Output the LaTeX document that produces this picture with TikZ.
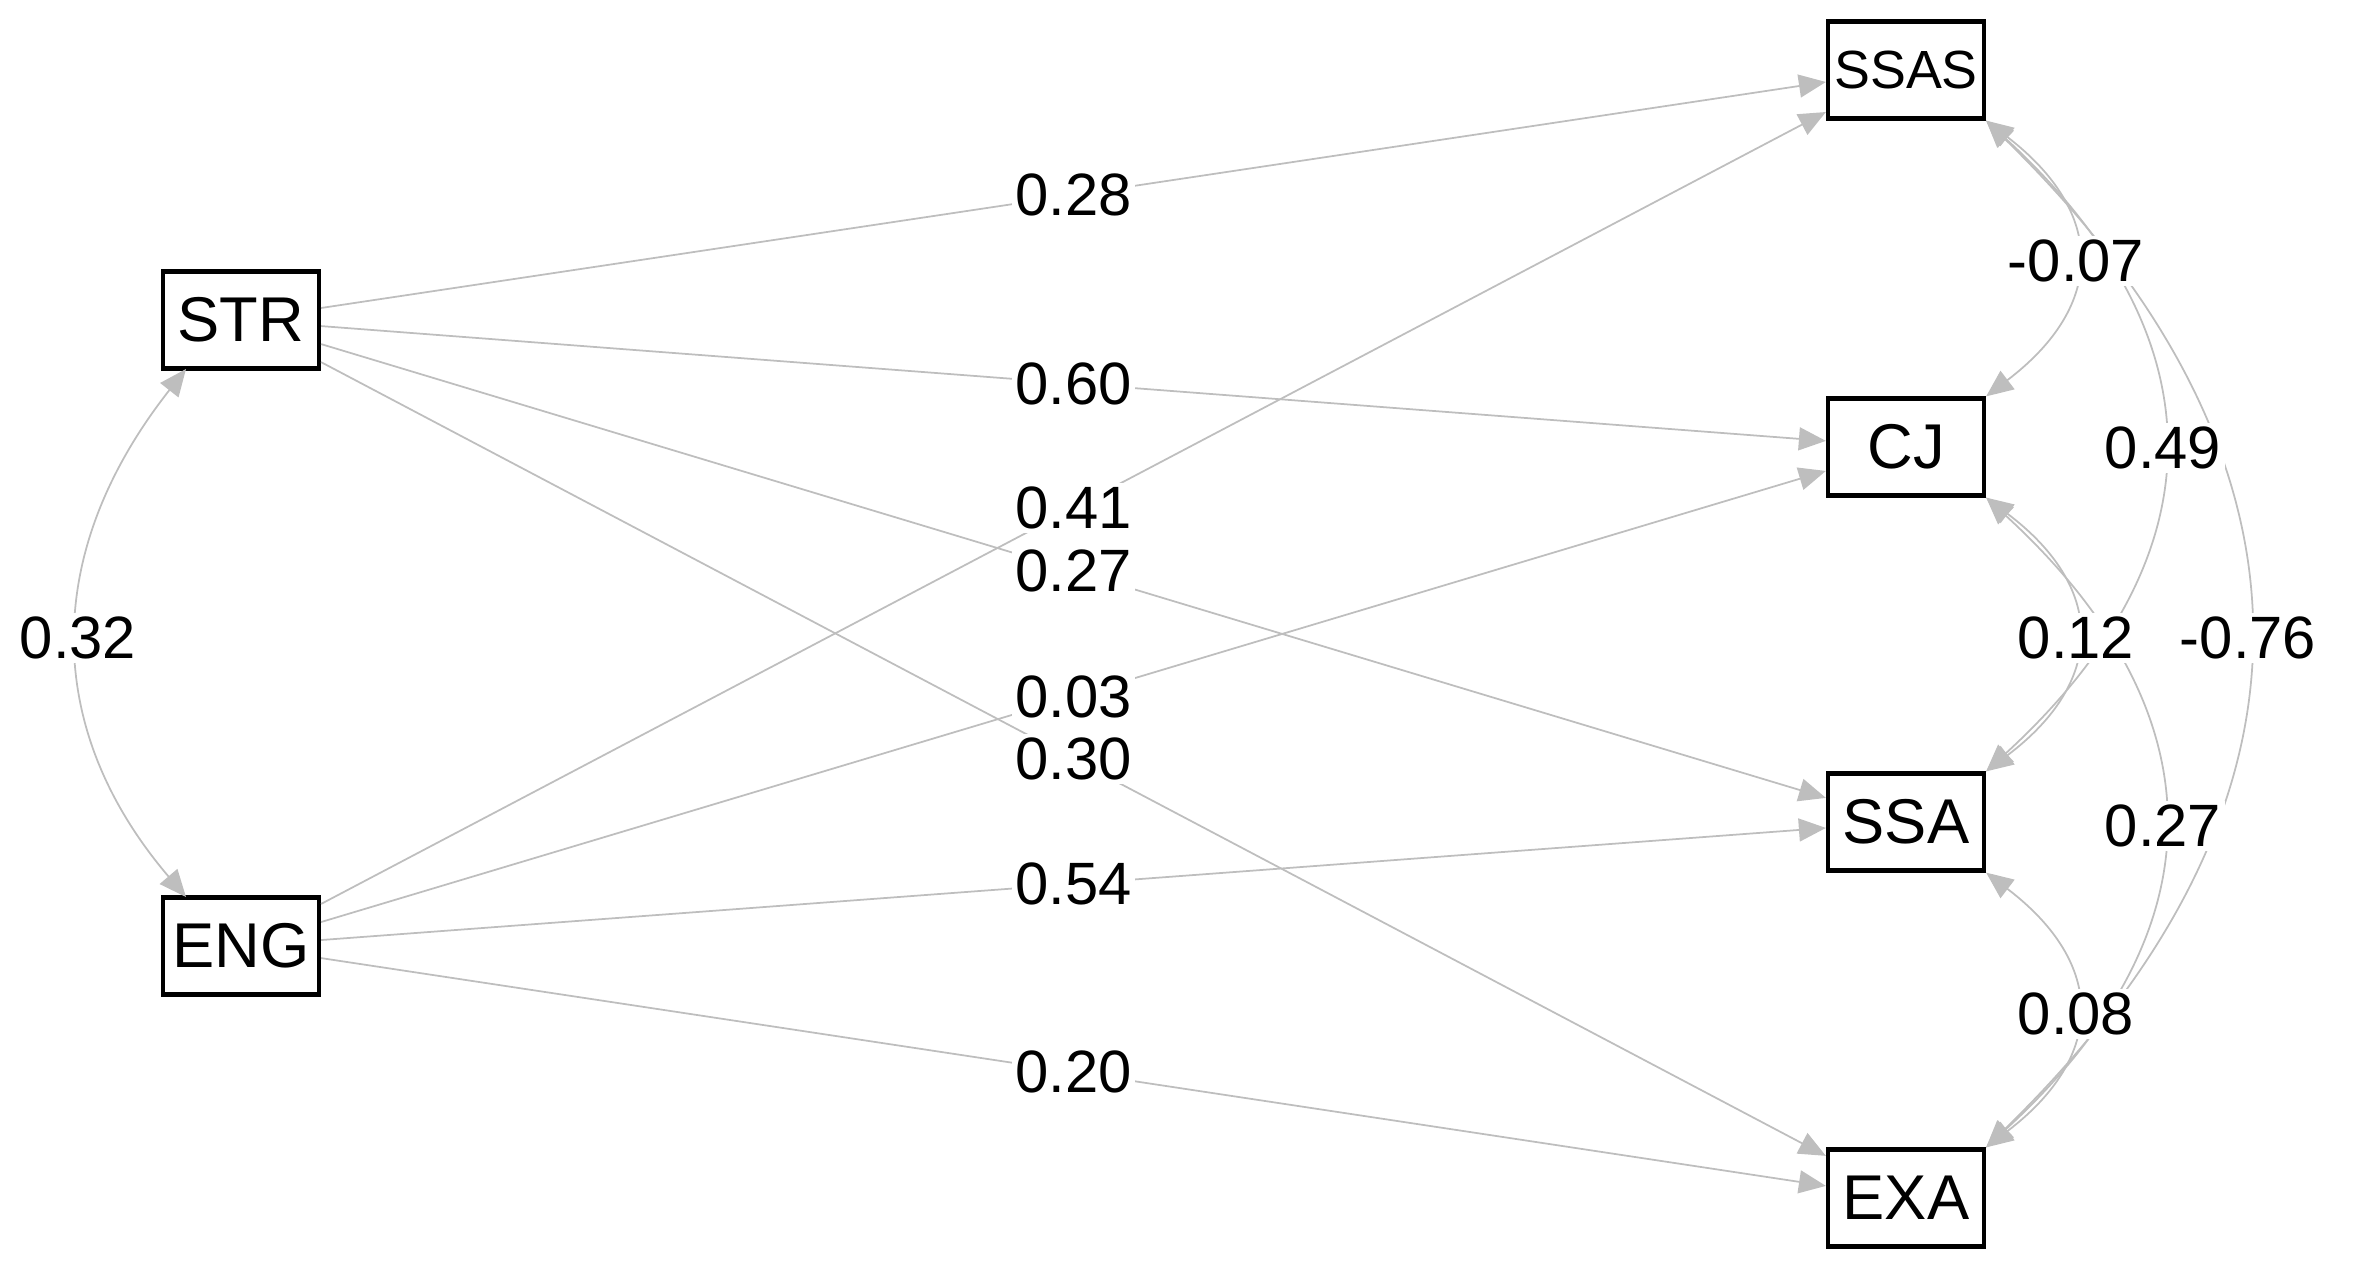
\documentclass[tikz,border=0pt]{standalone}
\usepackage{fontspec}
\setmainfont{Liberation Sans}
\usetikzlibrary{arrows.meta,calc}
\definecolor{edgegray}{HTML}{BEBEBE}
\begin{document}
\begin{tikzpicture}[x=0.1mm,y=-0.1mm,
  var/.style={draw=black, line width=1.2pt, fill=white, minimum width=15.6mm, minimum height=9.7mm, inner sep=0pt, font=\fontsize{18}{18}\selectfont},
  reg/.style={draw=edgegray, line width=0.5pt, -{Triangle[length=2.7mm,width=2.3mm]}},
  cov/.style={draw=edgegray, line width=0.5pt, {Triangle[length=2.7mm,width=2.3mm]}-{Triangle[length=2.7mm,width=2.3mm]}},
  lab/.style={fill=white, inner sep=1pt, font=\fontsize{17}{17}\selectfont, text=black},
]
\useasboundingbox (0,0) rectangle (2355,1261);
% variables
\node[var] (STR) at (241,320) {STR};
\node[var] (ENG) at (241,946) {ENG};
\node[var, font=\fontsize{15.3}{15.3}\selectfont] (SSAS) at (1906,70) {SSAS};
\node[var] (CJ) at (1906,447) {CJ};
\node[var] (SSA) at (1906,822) {SSA};
\node[var] (EXA) at (1906,1198) {EXA};
% regressions
\draw[reg] (STR) -- (SSAS);
\draw[reg] (STR) -- (CJ);
\draw[reg] (STR) -- (SSA);
\draw[reg] (STR) -- (EXA);
\draw[reg] (ENG) -- (SSAS);
\draw[reg] (ENG) -- (CJ);
\draw[reg] (ENG) -- (SSA);
\draw[reg] (ENG) -- (EXA);
% covariances
\coordinate (strb) at (186,369);
\coordinate (engt) at (186,897);
\draw[cov] (strb) .. controls (42,552) and (42,728) .. (engt);
\draw[cov] (SSAS.south east) .. controls (2106,213) and (2106,305) .. (CJ.north east);
\draw[cov] (SSAS.south east) .. controls (2222,338) and (2222,555) .. (SSA.north east);
\draw[cov] (SSAS.south east) .. controls (2336,463) and (2336,806) .. (EXA.north east);
\draw[cov] (CJ.south east) .. controls (2106,588) and (2106,681) .. (SSA.north east);
\draw[cov] (CJ.south east) .. controls (2222,714) and (2222,931) .. (EXA.north east);
\draw[cov] (SSA.south east) .. controls (2106,964) and (2106,1056) .. (EXA.north east);
% labels
\path (STR) -- (SSAS) node[lab, pos=0.5] (l1) {0.28};
\path (STR) -- (CJ) node[lab, pos=0.5] (l2) {0.60};
\path (STR) -- (SSA) node[lab, pos=0.5] (l3) {0.27};
\path (STR) -- (EXA) node[lab, pos=0.5] (l4) {0.30};
\path (ENG) -- (SSAS) node[lab, pos=0.5] (l5) {0.41};
\path (ENG) -- (CJ) node[lab, pos=0.5] (l6) {0.03};
\path (ENG) -- (SSA) node[lab, pos=0.5] (l7) {0.54};
\path (ENG) -- (EXA) node[lab, pos=0.5] (l8) {0.20};
\node[lab] (c1) at (78,638) {0.32};
\node[lab] (c2) at (2076,261) {-0.07};
\node[lab] (c3) at (2163,448) {0.49};
\node[lab] (c4) at (2248,638) {-0.76};
\node[lab] (c5) at (2076,638) {0.12};
\node[lab] (c6) at (2163,826) {0.27};
\node[lab] (c7) at (2076,1014) {0.08};
\end{tikzpicture}
\end{document}
